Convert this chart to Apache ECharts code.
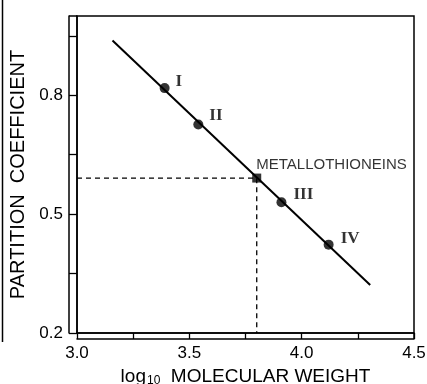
<!DOCTYPE html>
<html>
<head>
<meta charset="utf-8">
<script src="https://cdn.jsdelivr.net/npm/echarts@6/dist/echarts.min.js"></script>
<style>html,body{margin:0;padding:0;background:#fff}#c{width:427px;height:384px}</style>
</head>
<body>
<div id="c"></div>
<script>
// Data
const pointNames = ['I', 'II', 'III', 'IV'];
const pointX = [3.39, 3.54, 3.91, 4.12];
const pointY = [0.818, 0.726, 0.530, 0.423];
const mtName = 'METALLOTHIONEINS';
const mtX = 3.80;
const mtY = 0.591;
const fitX = [3.158, 4.305];
const fitY = [0.938, 0.321];
const xTicks = [3.0, 3.25, 3.5, 3.75, 4.0, 4.25, 4.5];
const xLabels = [3.0, 3.5, 4.0, 4.5];
const yTicks = [0.2, 0.35, 0.5, 0.65, 0.8, 0.95];
const yLabels = [0.2, 0.5, 0.8];
const xRange = [3.0, 4.5];
const yRange = [0.2, 1.0];

const labelOffsets = [[2, -7], [2, -9], [3, -8], [3, -6]];
const FONT = 'Liberation Sans';

const chart = echarts.init(document.getElementById('c'), null, {renderer: 'canvas'});

const scatterData = pointNames.map((n, i) => ({
  value: [pointX[i], pointY[i]],
  name: n,
  label: {show: true, position: 'right', distance: 4, offset: labelOffsets[i], formatter: n,
    fontFamily: 'Liberation Serif', fontWeight: 'bold', fontSize: 17, color: '#000'}
}));

chart.setOption({
  animation: false,
  backgroundColor: '#fff',
  grid: {left: 77, right: 13, top: 16, bottom: 51, outerBoundsMode: 'none', containLabel: false,
    show: true, borderColor: '#000', borderWidth: 1.5, backgroundColor: 'transparent'},
  xAxis: [{
    type: 'value', min: xRange[0], max: xRange[1], interval: 0.25,
    axisLine: {show: true, lineStyle: {color: '#000', width: 1.5}},
    axisTick: {show: true, length: 6, customValues: xTicks, lineStyle: {color: '#000', width: 1.3}},
    axisLabel: {customValues: xLabels, formatter: v => Number(v).toFixed(1), color: '#000', fontFamily: FONT, fontSize: 17, margin: 12},
    splitLine: {show: false},
    name: '{a|log}{s|10}{a|  MOLECULAR WEIGHT}',
    nameLocation: 'middle', nameGap: 30,
    nameTextStyle: {rich: {
      a: {fontFamily: FONT, fontSize: 19, color: '#000'},
      s: {fontFamily: FONT, fontSize: 12, color: '#000', padding: [8, 0, 0, 1]}
    }}
  }, {
    type: 'value', min: xRange[0], max: xRange[1], position: 'bottom', offset: 6,
    axisLine: {show: true, lineStyle: {color: '#000', width: 1.5}},
    axisTick: {show: false}, axisLabel: {show: false}, splitLine: {show: false}
  }],
  yAxis: [{
    type: 'value', min: yRange[0], max: yRange[1],
    axisLine: {show: true, lineStyle: {color: '#000', width: 1.5}},
    axisTick: {show: true, length: 8, customValues: yTicks, lineStyle: {color: '#000', width: 1.3}},
    axisLabel: {customValues: yLabels, formatter: v => Number(v).toFixed(1), color: '#000', fontFamily: FONT, fontSize: 17, margin: 14},
    splitLine: {show: false},
    name: 'PARTITION  COEFFICIENT', nameLocation: 'middle', nameGap: 47, nameRotate: 90,
    nameTextStyle: {fontFamily: FONT, fontSize: 20, color: '#000'}
  }, {
    type: 'value', min: yRange[0], max: yRange[1], position: 'left', offset: 8,
    axisLine: {show: true, lineStyle: {color: '#000', width: 1.5}},
    axisTick: {show: false}, axisLabel: {show: false}, splitLine: {show: false}
  }],
  graphic: [
    {type: 'line', shape: {x1: 69, y1: 16, x2: 77, y2: 16}, style: {stroke: '#000', lineWidth: 1.5}},
    {type: 'line', shape: {x1: 414, y1: 333, x2: 414, y2: 339}, style: {stroke: '#000', lineWidth: 1.5}},
    {type: 'line', shape: {x1: 2.5, y1: 0, x2: 2.5, y2: 342}, style: {stroke: '#000', lineWidth: 1.5}}
  ],
  series: [
    {
      type: 'line', data: fitX.map((x, i) => [x, fitY[i]]), showSymbol: false, symbol: 'none',
      lineStyle: {color: '#000', width: 2}, z: 2
    },
    {
      type: 'line', data: [[xRange[0], mtY], [mtX, mtY], [mtX, yRange[0]]], showSymbol: false, symbol: 'none',
      lineStyle: {color: '#000', width: 1.3, type: [5, 4]}, z: 1
    },
    {
      type: 'scatter', data: scatterData, symbol: 'circle', symbolSize: 10,
      itemStyle: {color: '#000'}, z: 3
    },
    {
      type: 'scatter', data: [{value: [mtX, mtY], name: mtName}], symbol: 'rect', symbolSize: 9,
      itemStyle: {color: '#000'}, z: 3,
      label: {show: true, position: 'right', distance: 0, offset: [-5, -13], formatter: mtName,
        fontFamily: FONT, fontSize: 15, color: '#000'}
    }
  ]
});
</script>
</body>
</html>
